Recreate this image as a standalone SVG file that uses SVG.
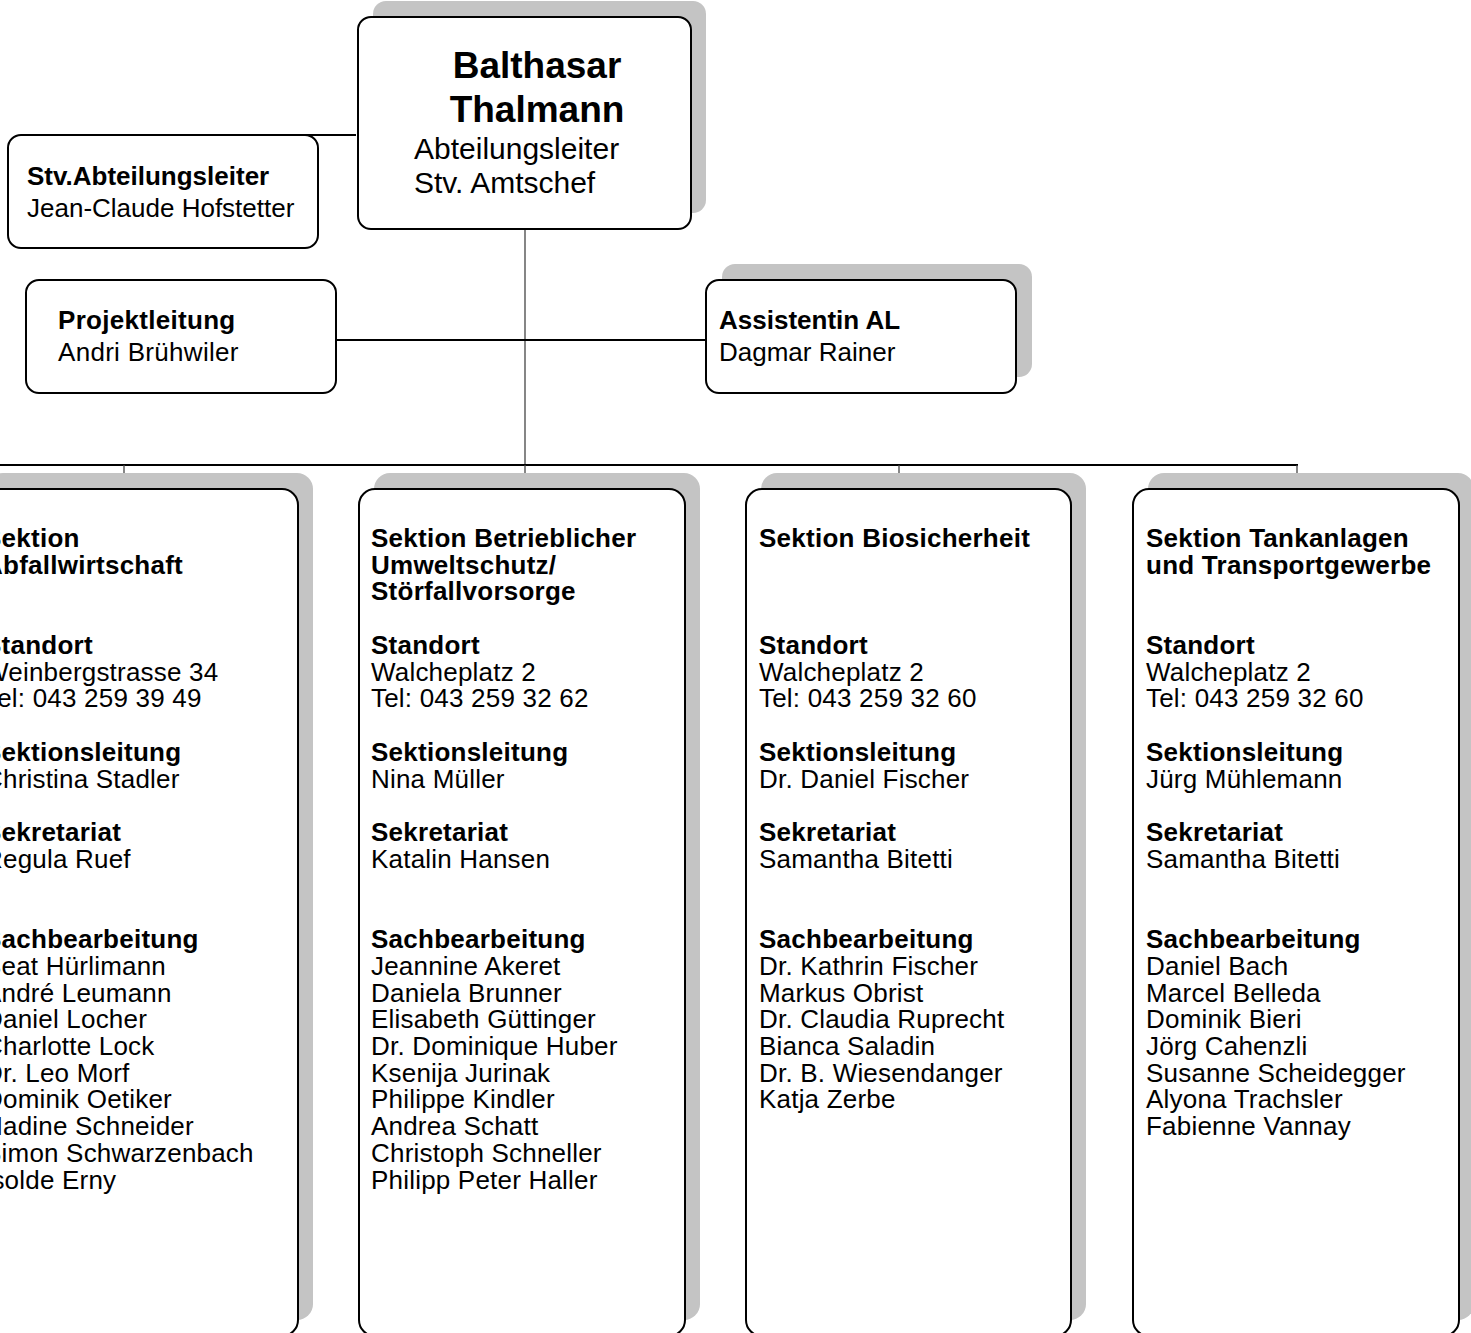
<svg xmlns="http://www.w3.org/2000/svg" width="1471" height="1333" viewBox="0 0 1471 1333">
<style>
.box{fill:#fff;stroke:#000;stroke-width:2}
.sh{fill:#c4c4c4}
.t{font-family:"Liberation Sans",Arial,sans-serif;fill:#000}
.r{font-size:26px}
.b{font-size:26px;font-weight:bold}
.s{font-size:26px;letter-spacing:0.2px}
.sb{font-size:26px;font-weight:bold;letter-spacing:0.25px}
.ln{stroke:#000;stroke-width:2;fill:none}
.lg{stroke:#444;stroke-width:1.3;fill:none}
</style>
<rect width="1471" height="1333" fill="#fff"/>
<g id="connectors">
<line class="ln" x1="217" y1="135" x2="356" y2="135"/>
<line class="lg" x1="525" y1="229" x2="525" y2="465"/>
<line class="ln" x1="336" y1="340" x2="706" y2="340"/>
<line class="ln" x1="0" y1="465" x2="1298" y2="465"/>
<line class="lg" x1="124" y1="465" x2="124" y2="489"/>
<line class="lg" x1="525" y1="465" x2="525" y2="489"/>
<line class="lg" x1="899" y1="465" x2="899" y2="489"/>
<line class="lg" x1="1297" y1="465" x2="1297" y2="489"/>
</g>
<g id="node-thalmann">
<rect class="sh" x="373" y="1" width="333" height="212" rx="13"/>
<rect class="box" x="358" y="17" width="333" height="212" rx="13"/>
<text class="t" font-size="37" font-weight="bold" text-anchor="middle" x="537" y="78">Balthasar</text>
<text class="t" font-size="37" font-weight="bold" text-anchor="middle" x="537" y="122">Thalmann</text>
<text class="t" font-size="30" x="414" y="159">Abteilungsleiter</text>
<text class="t" font-size="30" x="414" y="193">Stv. Amtschef</text>
</g>
<g id="node-stv">
<rect class="box" x="8" y="135" width="310" height="113" rx="13"/>
<text class="t b" x="27" y="185">Stv.Abteilungsleiter</text>
<text class="t r" x="27" y="217">Jean-Claude Hofstetter</text>
</g>
<g id="node-projekt">
<rect class="box" x="26" y="280" width="310" height="113" rx="13"/>
<text class="t b" x="58" y="329" letter-spacing="0.3">Projektleitung</text>
<text class="t r" x="58" y="361" letter-spacing="0.3">Andri Brühwiler</text>
</g>
<g id="node-assistentin">
<rect class="sh" x="722" y="264" width="310" height="113" rx="13"/>
<rect class="box" x="706" y="280" width="310" height="113" rx="13"/>
<text class="t b" x="719" y="329">Assistentin AL</text>
<text class="t r" x="719" y="361">Dagmar Rainer</text>
</g>
<g id="node-abfall">
<rect class="sh" x="-13" y="473" width="326" height="847" rx="16"/>
<rect class="box" x="-28" y="489" width="326" height="847" rx="16"/>
<text class="t sb" x="-16" y="547">Sektion</text>
<text class="t sb" x="-16" y="574">Abfallwirtschaft</text>
<text class="t sb" x="-16" y="654">Standort</text>
<text class="t s" x="-16" y="681">Weinbergstrasse 34</text>
<text class="t s" x="-16" y="707">Tel: 043 259 39 49</text>
<text class="t sb" x="-16" y="761">Sektionsleitung</text>
<text class="t s" x="-16" y="788">Christina Stadler</text>
<text class="t sb" x="-16" y="841">Sekretariat</text>
<text class="t s" x="-16" y="868">Regula Ruef</text>
<text class="t sb" x="-16" y="948">Sachbearbeitung</text>
<text class="t s" x="-16" y="975">Beat Hürlimann</text>
<text class="t s" x="-16" y="1002">André Leumann</text>
<text class="t s" x="-16" y="1028">Daniel Locher</text>
<text class="t s" x="-16" y="1055">Charlotte Lock</text>
<text class="t s" x="-16" y="1082">Dr. Leo Morf</text>
<text class="t s" x="-16" y="1108">Dominik Oetiker</text>
<text class="t s" x="-16" y="1135">Nadine Schneider</text>
<text class="t s" x="-16" y="1162">Simon Schwarzenbach</text>
<text class="t s" x="-16" y="1189">Isolde Erny</text>
</g>
<g id="node-betrieb">
<rect class="sh" x="374" y="473" width="326" height="847" rx="16"/>
<rect class="box" x="359" y="489" width="326" height="847" rx="16"/>
<text class="t sb" x="371" y="547">Sektion Betrieblicher</text>
<text class="t sb" x="371" y="574">Umweltschutz/</text>
<text class="t sb" x="371" y="600">Störfallvorsorge</text>
<text class="t sb" x="371" y="654">Standort</text>
<text class="t s" x="371" y="681">Walcheplatz 2</text>
<text class="t s" x="371" y="707">Tel: 043 259 32 62</text>
<text class="t sb" x="371" y="761">Sektionsleitung</text>
<text class="t s" x="371" y="788">Nina Müller</text>
<text class="t sb" x="371" y="841">Sekretariat</text>
<text class="t s" x="371" y="868">Katalin Hansen</text>
<text class="t sb" x="371" y="948">Sachbearbeitung</text>
<text class="t s" x="371" y="975">Jeannine Akeret</text>
<text class="t s" x="371" y="1002">Daniela Brunner</text>
<text class="t s" x="371" y="1028">Elisabeth Güttinger</text>
<text class="t s" x="371" y="1055">Dr. Dominique Huber</text>
<text class="t s" x="371" y="1082">Ksenija Jurinak</text>
<text class="t s" x="371" y="1108">Philippe Kindler</text>
<text class="t s" x="371" y="1135">Andrea Schatt</text>
<text class="t s" x="371" y="1162">Christoph Schneller</text>
<text class="t s" x="371" y="1189">Philipp Peter Haller</text>
</g>
<g id="node-bio">
<rect class="sh" x="761" y="473" width="325" height="847" rx="16"/>
<rect class="box" x="746" y="489" width="325" height="847" rx="16"/>
<text class="t sb" x="759" y="547">Sektion Biosicherheit</text>
<text class="t sb" x="759" y="654">Standort</text>
<text class="t s" x="759" y="681">Walcheplatz 2</text>
<text class="t s" x="759" y="707">Tel: 043 259 32 60</text>
<text class="t sb" x="759" y="761">Sektionsleitung</text>
<text class="t s" x="759" y="788">Dr. Daniel Fischer</text>
<text class="t sb" x="759" y="841">Sekretariat</text>
<text class="t s" x="759" y="868">Samantha Bitetti</text>
<text class="t sb" x="759" y="948">Sachbearbeitung</text>
<text class="t s" x="759" y="975">Dr. Kathrin Fischer</text>
<text class="t s" x="759" y="1002">Markus Obrist</text>
<text class="t s" x="759" y="1028">Dr. Claudia Ruprecht</text>
<text class="t s" x="759" y="1055">Bianca Saladin</text>
<text class="t s" x="759" y="1082">Dr. B. Wiesendanger</text>
<text class="t s" x="759" y="1108">Katja Zerbe</text>
</g>
<g id="node-tank">
<rect class="sh" x="1148" y="473" width="326" height="847" rx="16"/>
<rect class="box" x="1133" y="489" width="326" height="847" rx="16"/>
<text class="t sb" x="1146" y="547">Sektion Tankanlagen</text>
<text class="t sb" x="1146" y="574">und Transportgewerbe</text>
<text class="t sb" x="1146" y="654">Standort</text>
<text class="t s" x="1146" y="681">Walcheplatz 2</text>
<text class="t s" x="1146" y="707">Tel: 043 259 32 60</text>
<text class="t sb" x="1146" y="761">Sektionsleitung</text>
<text class="t s" x="1146" y="788">Jürg Mühlemann</text>
<text class="t sb" x="1146" y="841">Sekretariat</text>
<text class="t s" x="1146" y="868">Samantha Bitetti</text>
<text class="t sb" x="1146" y="948">Sachbearbeitung</text>
<text class="t s" x="1146" y="975">Daniel Bach</text>
<text class="t s" x="1146" y="1002">Marcel Belleda</text>
<text class="t s" x="1146" y="1028">Dominik Bieri</text>
<text class="t s" x="1146" y="1055">Jörg Cahenzli</text>
<text class="t s" x="1146" y="1082">Susanne Scheidegger</text>
<text class="t s" x="1146" y="1108">Alyona Trachsler</text>
<text class="t s" x="1146" y="1135">Fabienne Vannay</text>
</g>
</svg>
